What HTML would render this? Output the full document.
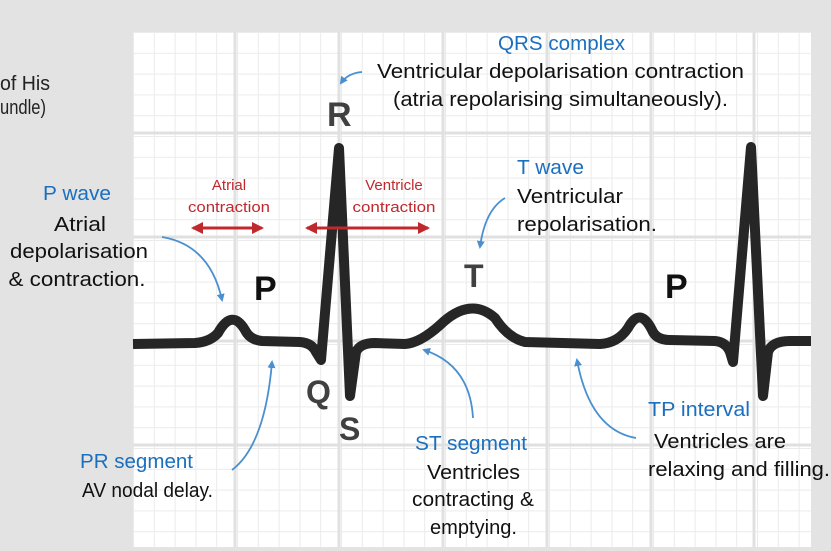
<!DOCTYPE html>
<html><head><meta charset="utf-8"><style>
html,body{margin:0;padding:0;background:#e3e3e3;}
svg{display:block;}
text{font-family:"Liberation Sans",sans-serif;}
</style></head><body>
<svg width="831" height="551" viewBox="0 0 831 551" xmlns="http://www.w3.org/2000/svg">
<defs>
<pattern id="minor" x="133" y="32" width="20.8" height="20.8" patternUnits="userSpaceOnUse">
<rect width="20.8" height="20.8" fill="#fff"/>
<path d="M0 0H20.8M0 0V20.8" stroke="#ebebeb" stroke-width="2" fill="none"/>
</pattern>
<marker id="ab" markerWidth="8" markerHeight="8" refX="6" refY="4" orient="auto" markerUnits="userSpaceOnUse"><path d="M0,0 L8,4 L0,8 Z" fill="#4a90d0"/></marker>
<marker id="ar" markerWidth="12" markerHeight="12" refX="10" refY="6" orient="auto" markerUnits="userSpaceOnUse"><path d="M0,0 L12,6 L0,12 Z" fill="#c0282d"/></marker>
<marker id="arl" markerWidth="12" markerHeight="12" refX="2" refY="6" orient="auto" markerUnits="userSpaceOnUse"><path d="M12,0 L0,6 L12,12 Z" fill="#c0282d"/></marker>
</defs>
<rect x="133" y="32" width="678" height="515" fill="url(#minor)"/>
<g stroke="#e0e0e0" stroke-width="3">
<line x1="235" y1="32" x2="235" y2="547"/><line x1="339" y1="32" x2="339" y2="547"/><line x1="443" y1="32" x2="443" y2="547"/><line x1="547" y1="32" x2="547" y2="547"/><line x1="651" y1="32" x2="651" y2="547"/><line x1="754" y1="32" x2="754" y2="547"/>
<line x1="133" y1="133" x2="811" y2="133"/><line x1="133" y1="237" x2="811" y2="237"/><line x1="133" y1="341" x2="811" y2="341"/><line x1="133" y1="445" x2="811" y2="445"/>
</g>
<path d="M133,344 L195,343 Q210,342 218,333 Q232,308 245,330 Q250,340 262,341 L300,342 Q312,343 316,352 L321,360 L339,148 L350,396 L356,352 Q360,343 375,343 L405,344 Q420,343 440,325 Q470,296 495,318 Q508,338 525,342 L600,344 Q618,343 628,328 Q640,306 652,330 Q656,340 670,340 L715,341 Q726,342 730,352 L733,362 L751,147 L763,396 L768,352 Q772,341 790,341 L811,341" fill="none" stroke="#262626" stroke-width="10" stroke-linejoin="round"/>
<g font-weight="bold">
<text x="327" y="126" font-size="34" fill="#404040">R</text>
<text x="254" y="300" font-size="34" fill="#111">P</text>
<text x="665" y="298" font-size="34" fill="#111">P</text>
<text x="464" y="287" font-size="32" fill="#404040">T</text>
<text x="306" y="403" font-size="32" fill="#404040">Q</text>
<text x="339" y="440" font-size="32" fill="#404040">S</text>
</g>
<line x1="193" y1="228" x2="262" y2="228" stroke="#c0282d" stroke-width="3" marker-start="url(#arl)" marker-end="url(#ar)"/>
<line x1="307" y1="228" x2="428" y2="228" stroke="#c0282d" stroke-width="3" marker-start="url(#arl)" marker-end="url(#ar)"/>
<g fill="#c0282d" font-size="15" text-anchor="middle" lengthAdjust="spacingAndGlyphs">
<text x="229" y="190">Atrial</text><text x="229" y="212" textLength="82" lengthAdjust="spacingAndGlyphs">contraction</text>
<text x="394" y="190">Ventricle</text><text x="394" y="212" textLength="83" lengthAdjust="spacingAndGlyphs">contraction</text>
</g>
<g fill="none" stroke="#4a90d0" stroke-width="1.8" marker-end="url(#ab)">
<path d="M362,72 Q348,73 341,83"/>
<path d="M162,237 Q210,245 222,300"/>
<path d="M505,198 Q485,210 480,247"/>
<path d="M232,470 Q265,445 272,362"/>
<path d="M473,418 Q470,365 424,350"/>
<path d="M636,438 Q590,430 577,360"/>
</g>
<g font-size="20">
<text x="0" y="90" fill="#222" textLength="50" lengthAdjust="spacingAndGlyphs">of His</text>
<text x="0" y="114" fill="#222" textLength="46" lengthAdjust="spacingAndGlyphs">undle)</text>
<g text-anchor="middle">
<text x="77" y="200" fill="#1a6fbf" textLength="68" lengthAdjust="spacingAndGlyphs">P wave</text>
<text x="80" y="231" fill="#111" textLength="52" lengthAdjust="spacingAndGlyphs">Atrial</text>
<text x="79" y="258" fill="#111" textLength="138" lengthAdjust="spacingAndGlyphs">depolarisation</text>
<text x="77" y="286" fill="#111" textLength="137" lengthAdjust="spacingAndGlyphs">&amp; contraction.</text>
</g>
<text x="498" y="50" fill="#1a6fbf" textLength="127" lengthAdjust="spacingAndGlyphs">QRS complex</text>
<text x="377" y="78" fill="#111" textLength="367" lengthAdjust="spacingAndGlyphs">Ventricular depolarisation contraction</text>
<text x="393" y="106" fill="#111" textLength="335" lengthAdjust="spacingAndGlyphs">(atria repolarising simultaneously).</text>
<text x="517" y="174" fill="#1a6fbf" textLength="67" lengthAdjust="spacingAndGlyphs">T wave</text>
<text x="517" y="203" fill="#111" textLength="106" lengthAdjust="spacingAndGlyphs">Ventricular</text>
<text x="517" y="231" fill="#111" textLength="140" lengthAdjust="spacingAndGlyphs">repolarisation.</text>
<text x="80" y="468" fill="#1a6fbf" textLength="113" lengthAdjust="spacingAndGlyphs">PR segment</text>
<text x="82" y="497" fill="#111" textLength="131" lengthAdjust="spacingAndGlyphs">AV nodal delay.</text>
<text x="415" y="450" fill="#1a6fbf" textLength="112" lengthAdjust="spacingAndGlyphs">ST segment</text>
<text x="427" y="479" fill="#111" textLength="93" lengthAdjust="spacingAndGlyphs">Ventricles</text>
<text x="412" y="506" fill="#111" textLength="122" lengthAdjust="spacingAndGlyphs">contracting &amp;</text>
<text x="430" y="534" fill="#111" textLength="87" lengthAdjust="spacingAndGlyphs">emptying.</text>
<text x="648" y="416" fill="#1a6fbf" textLength="102" lengthAdjust="spacingAndGlyphs">TP interval</text>
<text x="654" y="448" fill="#111" textLength="132" lengthAdjust="spacingAndGlyphs">Ventricles are</text>
<text x="648" y="476" fill="#111" textLength="182" lengthAdjust="spacingAndGlyphs">relaxing and filling.</text>
</g>
</svg>
</body></html>
